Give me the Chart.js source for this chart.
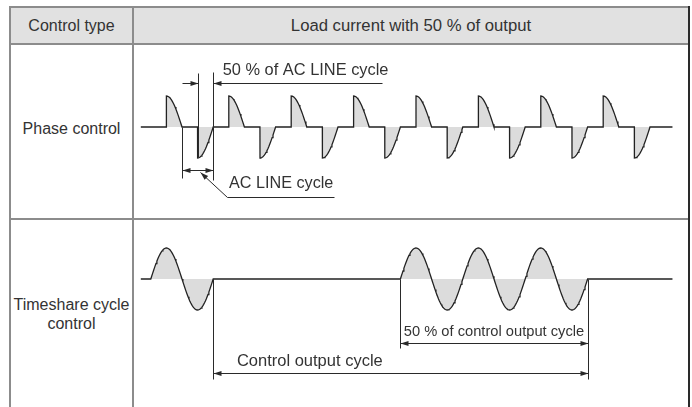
<!DOCTYPE html>
<html lang="en">
<head>
<meta charset="UTF-8">
<title>Load current with 50 % of output</title>
<script src="https://cdn.jsdelivr.net/npm/chart.js"></script>
<style>
  body { margin: 0; width: 692px; height: 407px; overflow: hidden; background: #fff;
         font-family: "Liberation Sans", Arial, sans-serif; font-size: 16.5px; color: #333; position: relative; }
  .rule { position: absolute; background: #8c8c8c; }
  .cell { position: absolute; display: flex; align-items: center; justify-content: center;
          text-align: center; line-height: 19px; }
  canvas { position: absolute; }
</style>
</head>
<body>

<div class="cell" style="left:11px;top:8px;width:677px;height:35px;background:#e1e1e1"></div>

<div class="rule" style="left:9px;top:6px;width:681px;height:2px"></div>
<div class="rule" style="left:9px;top:43px;width:680px;height:2px"></div>
<div class="rule" style="left:9px;top:218px;width:680px;height:2px"></div>
<div class="rule" style="left:9px;top:6px;width:2px;height:401px"></div>
<div class="rule" style="left:132px;top:6px;width:2px;height:401px"></div>
<div class="rule" style="left:688px;top:6px;width:2px;height:401px;background:#2a2a2a"></div>

<div class="cell" style="left:11px;top:8px;width:121px;height:35px;font-size:16px">Control type</div>
<div class="cell" style="left:134px;top:8px;width:554px;height:35px;font-size:16.7px">Load current with 50 % of output</div>
<div class="cell" style="left:11px;top:45px;width:121px;height:166px;font-size:16px">Phase control</div>
<div class="cell" style="left:11px;top:220px;width:121px;height:187px;font-size:16px">Timeshare cycle<br>control</div>

<canvas id="phase" width="554" height="173" style="left:134px;top:45px"></canvas>
<canvas id="timeshare" width="554" height="187" style="left:134px;top:220px"></canvas>

<script>
// AC line cycles shown in each row, and when the load is switched on
const acCycles = [0, 1, 2, 3, 4, 5, 6, 7];
const phaseFiringDeg = 90;              // 50 % of each half cycle conducts
const timeshareOnCycles = [0, 4, 5, 6]; // whole cycles switched on
const timeshareFiringDeg = 0;
const axisSpan = [-0.16, 8.36];         // zero line, in AC cycles

// dimension labels
const phaseLabels = ['50 % of AC LINE cycle', 'AC LINE cycle'];
const timeshareLabels = ['50 % of control output cycle', 'Control output cycle'];

// layout (pixels)
const X0 = 150.8, CYCLE_PX = 62.4, AMP_PX = 31;
const PANEL_LEFT = 134, PANEL_WIDTH = 554;
const FAMILY = '"Liberation Sans", Arial, sans-serif';

function waveform(cycles, firingDeg) {
  const pts = [{ x: axisSpan[0], y: 0 }];
  const add = (x, y) => {
    if (x > pts[pts.length - 1].x) pts.push({ x: x, y: y });
  };
  cycles.forEach(k => {
    [0, 1].forEach(h => {
      const sign = h ? -1 : 1;
      const base = k + h / 2;
      // tiny step before the firing edge keeps x strictly increasing
      if (firingDeg > 0) add(base + firingDeg / 360 - 0.001, 0);
      for (let d = firingDeg; d <= 180; d += 5) {
        add(base + d / 360, d === 180 ? 0 : sign * Math.sin(d * Math.PI / 180));
      }
    });
  });
  add(axisSpan[1], 0);
  return pts;
}

function notesPlugin(notes) {
  return {
    id: 'notes',
    afterDatasetsDraw(chart) {
      const { ctx, scales: { x, y } } = chart;
      const px = v => Math.round(x.getPixelForValue(v)) + 0.5;
      const py = v => Math.round(y.getPixelForValue(v)) + 0.5;
      const head = (hx, hy, tx, ty) => {
        const a = Math.atan2(hy - ty, hx - tx), L = 8, W = 2.6;
        ctx.beginPath();
        ctx.moveTo(hx, hy);
        ctx.lineTo(hx - L * Math.cos(a) + W * Math.sin(a), hy - L * Math.sin(a) - W * Math.cos(a));
        ctx.lineTo(hx - L * Math.cos(a) - W * Math.sin(a), hy - L * Math.sin(a) + W * Math.cos(a));
        ctx.closePath();
        ctx.fill();
      };
      ctx.save();
      ctx.strokeStyle = '#2a2a2a';
      ctx.fillStyle = '#2a2a2a';
      ctx.lineWidth = 1;
      notes.lines.forEach(p => {
        ctx.beginPath();
        p.forEach(([a, b], i) => i ? ctx.lineTo(px(a), py(b)) : ctx.moveTo(px(a), py(b)));
        ctx.stroke();
      });
      notes.arrows.forEach(([x1, y1, x2, y2, both]) => {
        const ax = px(x1), ay = py(y1), bx = px(x2), by = py(y2);
        ctx.beginPath();
        ctx.moveTo(ax, ay);
        ctx.lineTo(bx, by);
        ctx.stroke();
        head(bx, by, ax, ay);
        if (both) head(ax, ay, bx, by);
      });
      ctx.fillStyle = '#333';
      ctx.textBaseline = 'alphabetic';
      notes.texts.forEach(([t, a, b, align, size]) => {
        ctx.font = size + 'px ' + FAMILY;
        ctx.textAlign = align;
        ctx.fillText(t, x.getPixelForValue(a), y.getPixelForValue(b));
      });
      ctx.restore();
    }
  };
}

function makeChart(id, data, top, height, baselinePx, notes) {
  const canvas = document.getElementById(id);
  return new Chart(canvas, {
    type: 'line',
    data: {
      datasets: [{
        data: data,
        borderColor: '#222',
        borderWidth: 1.3,
        backgroundColor: '#dcdcdc',
        fill: 'origin',
        pointRadius: 0,
        tension: 0
      }]
    },
    options: {
      responsive: false,
      animation: false,
      devicePixelRatio: 1,
      layout: { padding: 0 },
      scales: {
        x: {
          type: 'linear', display: false,
          min: (PANEL_LEFT - X0) / CYCLE_PX,
          max: (PANEL_LEFT + PANEL_WIDTH - X0) / CYCLE_PX
        },
        y: {
          type: 'linear', display: false,
          min: -(top + height - baselinePx) / AMP_PX,
          max: (baselinePx - top) / AMP_PX
        }
      },
      plugins: { legend: { display: false }, tooltip: { enabled: false } }
    },
    plugins: [notesPlugin(notes)]
  });
}

makeChart('phase', waveform(acCycles, phaseFiringDeg), 45, 173, 127, {
  lines: [
    [[0.75, 1.74], [0.75, -0.97]],
    [[1.0, 1.77], [1.0, -1.71]],
    [[0.5, 0], [0.5, -1.65]],
    [[1.216, -2.25], [2.936, -2.25]]
  ],
  arrows: [
    [0.5, 1.42, 0.75, 1.42, false],
    [3.70, 1.42, 1.0, 1.42, false],
    [0.5, -1.39, 1.0, -1.39, true],
    [1.216, -2.25, 0.79, -1.46, false]
  ],
  texts: [
    [phaseLabels[0], 1.152, 1.68, 'left', 16.4],
    [phaseLabels[1], 1.253, -1.97, 'left', 16.2]
  ]
});

makeChart('timeshare', waveform(timeshareOnCycles, timeshareFiringDeg), 220, 187, 279, {
  lines: [
    [[1, 0], [1, -3.235]],
    [[4, 0], [4, -2.226]],
    [[7, 0], [7, -3.226]]
  ],
  arrows: [
    [4, -2.055, 7, -2.055, true],
    [1, -3.04, 7, -3.04, true]
  ],
  texts: [
    [timeshareLabels[0], 5.5, -1.84, 'center', 14.7],
    [timeshareLabels[1], 1.38, -2.81, 'left', 16.5]
  ]
});
</script>
</body>
</html>
